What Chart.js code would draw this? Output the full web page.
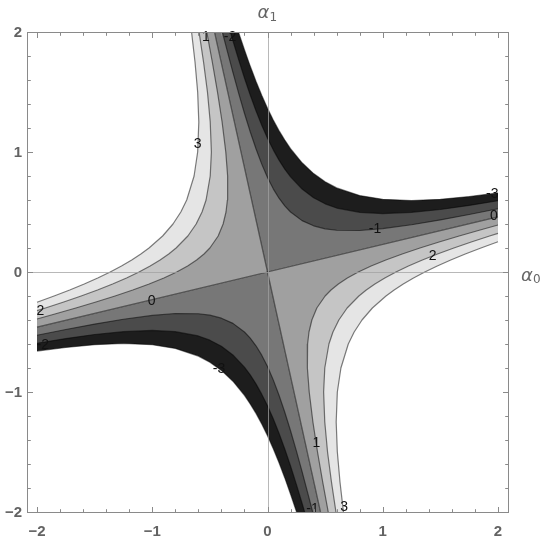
<!DOCTYPE html>
<html><head><meta charset="utf-8">
<script src="https://cdn.jsdelivr.net/npm/chart.js@4"></script>
<style>html,body{margin:0;padding:0;background:#fff;}canvas{display:block;}</style>
</head><body>
<canvas id="c" width="545" height="542"></canvas>
<script>
// ---- data (alpha0, alpha1 coordinates) ----
const xDomain = [-2, 2];
const yDomain = [-2, 2];
const xView = [-2.0868, 2.0868];

// zero contours: two straight lines through the origin
const zeroLineA = [[-2,-0.46],[0,0],[2,0.46]];
const zeroLineB = [[-0.46,2],[0,0],[0.46,-2]];

// level +1 branches
const pos1UL = [[-2.000,-0.392],[-1.845,-0.350],[-1.663,-0.300],[-1.489,-0.250],[-1.323,-0.200],[-1.169,-0.150],[-1.027,-0.100],[-0.899,-0.050],[-0.788,0.000],[-0.693,0.050],[-0.615,0.100],[-0.551,0.150],[-0.500,0.200],[-0.428,0.300],[-0.385,0.400],[-0.360,0.500],[-0.348,0.600],[-0.346,0.800],[-0.362,1.000],[-0.394,1.250],[-0.434,1.500],[-0.479,1.750],[-0.527,2.000]];
const pos1LR = [[2.000,0.392],[1.845,0.350],[1.663,0.300],[1.489,0.250],[1.323,0.200],[1.169,0.150],[1.027,0.100],[0.899,0.050],[0.788,0.000],[0.693,-0.050],[0.615,-0.100],[0.551,-0.150],[0.500,-0.200],[0.428,-0.300],[0.385,-0.400],[0.360,-0.500],[0.348,-0.600],[0.346,-0.800],[0.362,-1.000],[0.394,-1.250],[0.434,-1.500],[0.479,-1.750],[0.527,-2.000]];
// level +2 branches
const pos2UL = [[-2.000,-0.322],[-1.927,-0.300],[-1.768,-0.250],[-1.617,-0.200],[-1.475,-0.150],[-1.344,-0.100],[-1.223,-0.050],[-1.115,0.000],[-1.018,0.050],[-0.932,0.100],[-0.857,0.150],[-0.793,0.200],[-0.691,0.300],[-0.619,0.400],[-0.568,0.500],[-0.533,0.600],[-0.497,0.800],[-0.487,1.000],[-0.497,1.250],[-0.521,1.500],[-0.555,1.750],[-0.594,2.000]];
const pos2LR = [[2.000,0.322],[1.927,0.300],[1.768,0.250],[1.617,0.200],[1.475,0.150],[1.344,0.100],[1.223,0.050],[1.115,0.000],[1.018,-0.050],[0.932,-0.100],[0.857,-0.150],[0.793,-0.200],[0.691,-0.300],[0.619,-0.400],[0.568,-0.500],[0.533,-0.600],[0.497,-0.800],[0.487,-1.000],[0.497,-1.250],[0.521,-1.500],[0.555,-1.750],[0.594,-2.000]];
// level +3 branches
const pos3UL = [[-2.000,-0.252],[-1.852,-0.200],[-1.716,-0.150],[-1.590,-0.100],[-1.473,-0.050],[-1.365,0.000],[-1.267,0.050],[-1.178,0.100],[-1.099,0.150],[-1.028,0.200],[-0.910,0.300],[-0.820,0.400],[-0.752,0.500],[-0.701,0.600],[-0.637,0.800],[-0.606,1.000],[-0.596,1.250],[-0.606,1.500],[-0.629,1.750],[-0.659,2.000]];
const pos3LR = [[2.000,0.252],[1.852,0.200],[1.716,0.150],[1.590,0.100],[1.473,0.050],[1.365,0.000],[1.267,-0.050],[1.178,-0.100],[1.099,-0.150],[1.028,-0.200],[0.910,-0.300],[0.820,-0.400],[0.752,-0.500],[0.701,-0.600],[0.637,-0.800],[0.606,-1.000],[0.596,-1.250],[0.606,-1.500],[0.629,-1.750],[0.659,-2.000]];
// level -1 branches
const neg1UR = [[-0.392,2.000],[-0.350,1.845],[-0.300,1.663],[-0.250,1.489],[-0.200,1.323],[-0.150,1.169],[-0.100,1.027],[-0.050,0.899],[0.000,0.788],[0.050,0.693],[0.100,0.615],[0.150,0.551],[0.200,0.500],[0.300,0.428],[0.400,0.385],[0.500,0.360],[0.600,0.348],[0.800,0.346],[1.000,0.362],[1.250,0.394],[1.500,0.434],[1.750,0.479],[2.000,0.527]];
const neg1LL = [[0.392,-2.000],[0.350,-1.845],[0.300,-1.663],[0.250,-1.489],[0.200,-1.323],[0.150,-1.169],[0.100,-1.027],[0.050,-0.899],[0.000,-0.788],[-0.050,-0.693],[-0.100,-0.615],[-0.150,-0.551],[-0.200,-0.500],[-0.300,-0.428],[-0.400,-0.385],[-0.500,-0.360],[-0.600,-0.348],[-0.800,-0.346],[-1.000,-0.362],[-1.250,-0.394],[-1.500,-0.434],[-1.750,-0.479],[-2.000,-0.527]];
// level -2 branches
const neg2UR = [[-0.322,2.000],[-0.300,1.927],[-0.250,1.768],[-0.200,1.617],[-0.150,1.475],[-0.100,1.344],[-0.050,1.223],[0.000,1.115],[0.050,1.018],[0.100,0.932],[0.150,0.857],[0.200,0.793],[0.300,0.691],[0.400,0.619],[0.500,0.568],[0.600,0.533],[0.800,0.497],[1.000,0.487],[1.250,0.497],[1.500,0.521],[1.750,0.555],[2.000,0.594]];
const neg2LL = [[0.322,-2.000],[0.300,-1.927],[0.250,-1.768],[0.200,-1.617],[0.150,-1.475],[0.100,-1.344],[0.050,-1.223],[0.000,-1.115],[-0.050,-1.018],[-0.100,-0.932],[-0.150,-0.857],[-0.200,-0.793],[-0.300,-0.691],[-0.400,-0.619],[-0.500,-0.568],[-0.600,-0.533],[-0.800,-0.497],[-1.000,-0.487],[-1.250,-0.497],[-1.500,-0.521],[-1.750,-0.555],[-2.000,-0.594]];
// level -3 branches
const neg3UR = [[-0.252,2.000],[-0.200,1.852],[-0.150,1.716],[-0.100,1.590],[-0.050,1.473],[0.000,1.365],[0.050,1.267],[0.100,1.178],[0.150,1.099],[0.200,1.028],[0.300,0.910],[0.400,0.820],[0.500,0.752],[0.600,0.701],[0.800,0.637],[1.000,0.606],[1.250,0.596],[1.500,0.606],[1.750,0.629],[2.000,0.659]];
const neg3LL = [[0.252,-2.000],[0.200,-1.852],[0.150,-1.716],[0.100,-1.590],[0.050,-1.473],[0.000,-1.365],[-0.050,-1.267],[-0.100,-1.178],[-0.150,-1.099],[-0.200,-1.028],[-0.300,-0.910],[-0.400,-0.820],[-0.500,-0.752],[-0.600,-0.701],[-0.800,-0.637],[-1.000,-0.606],[-1.250,-0.596],[-1.500,-0.606],[-1.750,-0.629],[-2.000,-0.659]];

// contour labels
const contourLabelText = ['3','1','-2','-1','2','0','-3','2','-2','0','-3','1','-1','3'];
const contourLabelX = [-0.607,-0.534,-0.325,0.933,1.432,1.965,1.95,-1.97,-1.95,-1.006,-0.42,0.425,0.39,0.664];
const contourLabelY = [1.069,1.958,1.958,0.361,0.133,0.4625,0.652,-0.329,-0.608,-0.242,-0.81,-1.425,-1.98,-1.96];

// ticks
const majorTicks = [-2,-1,0,1,2];
const majorTickLabels = ['\u22122','\u22121','0','1','2'];
const minorTicks = [-2,-1.8,-1.6,-1.4,-1.2,-1,-0.8,-0.6,-0.4,-0.2,0,0.2,0.4,0.6,0.8,1,1.2,1.4,1.6,1.8,2];
const axisNames = ['\u03B1', '0', '1'];

// ---- styles ----
const bandColor = {
  p0: '#a0a0a0', p1: '#c5c5c5', p2: '#e5e5e5', p3: '#ffffff',
  n0: '#777777', n1: '#4b4b4b', n2: '#1d1d1d', n3: '#ffffff'
};
const lineColor = 'rgba(0,0,0,0.5)';

const cUL = [xDomain[0], yDomain[1]], cUR = [xDomain[1], yDomain[1]];
const cLL = [xDomain[0], yDomain[0]], cLR = [xDomain[1], yDomain[0]];
const toXY = arr => arr.map(p => ({x: p[0], y: p[1]}));

const fillShapes = [
  [[zeroLineA[0], zeroLineA[1], zeroLineB[0], cUL], bandColor.p0],
  [[zeroLineA[2], zeroLineA[1], zeroLineB[2], cLR], bandColor.p0],
  [[zeroLineB[0], zeroLineA[1], zeroLineA[2], cUR], bandColor.n0],
  [[zeroLineB[2], zeroLineA[1], zeroLineA[0], cLL], bandColor.n0],
  [pos1UL.concat([cUL]), bandColor.p1], [pos1LR.concat([cLR]), bandColor.p1],
  [neg1UR.concat([cUR]), bandColor.n1], [neg1LL.concat([cLL]), bandColor.n1],
  [pos2UL.concat([cUL]), bandColor.p2], [pos2LR.concat([cLR]), bandColor.p2],
  [neg2UR.concat([cUR]), bandColor.n2], [neg2LL.concat([cLL]), bandColor.n2],
  [pos3UL.concat([cUL]), bandColor.p3], [pos3LR.concat([cLR]), bandColor.p3],
  [neg3UR.concat([cUR]), bandColor.n3], [neg3LL.concat([cLL]), bandColor.n3]
];
const contourLines = [zeroLineA, zeroLineB, pos1UL, pos1LR, pos2UL, pos2LR, pos3UL, pos3LR,
  neg1UR, neg1LL, neg2UR, neg2LL, neg3UR, neg3LL];

const datasets = [];
fillShapes.forEach((s, i) => {
  datasets.push({
    data: toXY(s[0]), fill: 'shape', backgroundColor: s[1], borderWidth: 0,
    borderColor: 'rgba(0,0,0,0)', pointRadius: 0, tension: 0, order: 1000 - i
  });
});
contourLines.forEach((l, i) => {
  datasets.push({
    data: toXY(l), fill: false, borderColor: lineColor, borderWidth: 1.2,
    pointRadius: 0, tension: 0, borderJoinStyle: 'round', order: 100 - i
  });
});

const decor = {
  id: 'decor',
  afterDatasetsDraw(chart) {
    const {ctx, chartArea: a, scales: {x, y}} = chart;
    ctx.save();
    // axes through origin
    const x0 = Math.round(x.getPixelForValue(0)) + 0.5;
    const y0 = Math.round(y.getPixelForValue(0)) + 0.5;
    ctx.strokeStyle = 'rgba(160,160,160,0.75)';
    ctx.lineWidth = 1;
    ctx.beginPath();
    ctx.moveTo(x0, a.top); ctx.lineTo(x0, a.bottom);
    ctx.moveTo(a.left, y0); ctx.lineTo(a.right, y0);
    ctx.stroke();
    // contour labels
    ctx.fillStyle = '#111';
    ctx.font = '14px "Liberation Sans", Arial, sans-serif';
    ctx.textAlign = 'center'; ctx.textBaseline = 'middle';
    contourLabelText.forEach((t, i) => {
      ctx.fillText(t, x.getPixelForValue(contourLabelX[i]), y.getPixelForValue(contourLabelY[i]));
    });
    // frame
    ctx.strokeStyle = '#8a8a8a';
    ctx.lineWidth = 1;
    ctx.strokeRect(a.left + 0.5, a.top + 0.5, a.right - a.left, a.bottom - a.top);
    // ticks
    ctx.beginPath();
    minorTicks.forEach(v => {
      const len = majorTicks.includes(v) ? 5.5 : 3.3;
      const px = Math.round(x.getPixelForValue(v)) + 0.5;
      ctx.moveTo(px, a.bottom + 0.5); ctx.lineTo(px, a.bottom + 0.5 - len);
      ctx.moveTo(px, a.top + 0.5); ctx.lineTo(px, a.top + 0.5 + len);
      const py = Math.round(y.getPixelForValue(v)) + 0.5;
      ctx.moveTo(a.left + 0.5, py); ctx.lineTo(a.left + 0.5 + len, py);
      ctx.moveTo(a.right + 0.5, py); ctx.lineTo(a.right + 0.5 - len, py);
    });
    ctx.stroke();
    // tick labels
    ctx.fillStyle = '#636363';
    ctx.font = 'bold 15px "Liberation Sans", Arial, sans-serif';
    majorTicks.forEach((v, i) => {
      ctx.textAlign = 'right'; ctx.textBaseline = 'middle';
      ctx.fillText(majorTickLabels[i], a.left - 5, y.getPixelForValue(v) + 0.5);
      ctx.textAlign = 'center'; ctx.textBaseline = 'middle';
      ctx.fillText(majorTickLabels[i], x.getPixelForValue(v), a.bottom + 19.5);
    });
    // axis names
    ctx.fillStyle = '#666';
    ctx.textAlign = 'left'; ctx.textBaseline = 'alphabetic';
    ctx.font = 'italic 18px "DejaVu Sans", sans-serif';
    ctx.fillText(axisNames[0], a.right + 13, y0 + 8);
    ctx.fillText(axisNames[0], x0 - 11, a.top - 14);
    ctx.font = '12px "DejaVu Sans", sans-serif';
    ctx.fillText(axisNames[1], a.right + 25, y0 + 10);
    ctx.fillText(axisNames[2], x0 + 1, a.top - 11);
    ctx.restore();
  }
};

new Chart(document.getElementById('c'), {
  type: 'line',
  data: { datasets },
  options: {
    responsive: false, animation: false, events: [],
    layout: { padding: { left: 27, right: 37, top: 32, bottom: 30 } },
    plugins: { legend: { display: false }, tooltip: { enabled: false } },
    scales: {
      x: { type: 'linear', min: xView[0], max: xView[1], display: false },
      y: { type: 'linear', min: yDomain[0], max: yDomain[1], display: false }
    }
  },
  plugins: [decor]
});
</script>
</body></html>
